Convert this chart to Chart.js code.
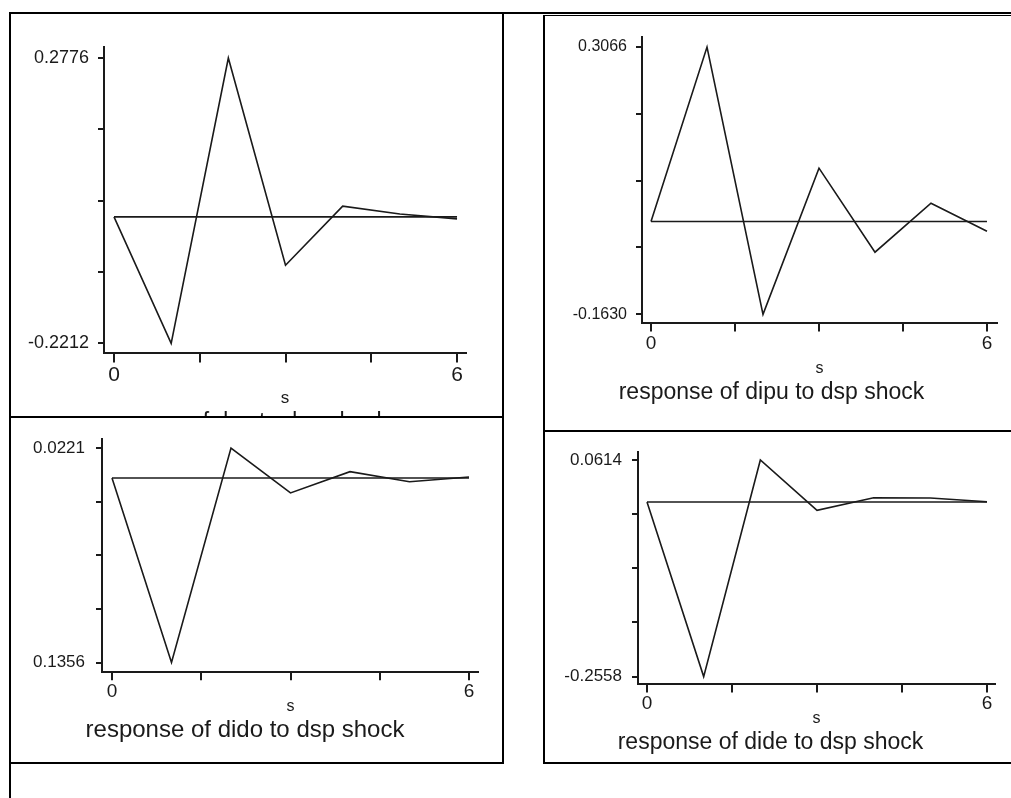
<!DOCTYPE html>
<html>
<head>
<meta charset="utf-8">
<script src="https://cdn.jsdelivr.net/npm/chart.js@4.4.1/dist/chart.umd.min.js"></script>
<style>
  body { margin: 0; background: #fff; width: 1011px; height: 798px; overflow: hidden; position: relative; }
  canvas, .line, .cover { position: absolute; }
  .line { background: #000; }
  .cover { background: #fff; }
</style>
</head>
<body>
<canvas id="tl" width="470" height="421" style="left:11px;top:15px"></canvas>
<div class="cover" style="left:11px;top:418px;width:491px;height:344px"></div>
<canvas id="bl" width="468" height="327" style="left:11px;top:418px"></canvas>
<canvas id="tr" width="456" height="389" style="left:546px;top:17px"></canvas>
<canvas id="br" width="454" height="324" style="left:546px;top:432px"></canvas>

<div class="line" style="left:9px;top:12px;width:1002px;height:2px"></div>
<div class="line" style="left:9px;top:12px;width:2px;height:786px"></div>
<div class="line" style="left:502px;top:12px;width:2px;height:752px"></div>
<div class="line" style="left:9px;top:416px;width:495px;height:2px"></div>
<div class="line" style="left:9px;top:762px;width:495px;height:2px"></div>
<div class="line" style="left:543px;top:15px;width:2px;height:749px"></div>
<div class="line" style="left:543px;top:15px;width:468px;height:1px"></div>
<div class="line" style="left:543px;top:430px;width:468px;height:2px"></div>
<div class="line" style="left:543px;top:762px;width:468px;height:2px"></div>

<script>
// impulse responses, horizon 0..6
const steps = [0, 1, 2, 3, 4, 5, 6];
const baseline = [0, 0, 0, 0, 0, 0, 0];
const dspResp  = [0, -0.2212, 0.2776, -0.0847, 0.0186, 0.0050, -0.0035];
const dipuResp = [0, 0.3066, -0.1630, 0.0938, -0.0539, 0.0322, -0.0170];
const didoResp = [0, -0.1356, 0.0221, -0.0109, 0.0047, -0.0027, 0.0008];
const dideResp = [0, -0.2558, 0.0614, -0.0122, 0.0060, 0.0057, 0.0002];

// tick labels (bottom, top) as printed
const dspTicks  = ['-0.2212', '0.2776'];
const dipuTicks = ['-0.1630', '0.3066'];
const didoTicks = ['0.1356', '0.0221'];
const dideTicks = ['-0.2558', '0.0614'];

const xTickValues = [0, 1.5, 3, 4.5, 6];
const xTickText = ['0', '', '', '', '6'];

const regular = "'Liberation Sans', Arial, sans-serif";
const ink = '#1a1a1a';

function makePanel(id, values, yText, title, g) {
    const lo = Math.min(...values);
    const hi = Math.max(...values);
    const span = hi - lo;
    new Chart(document.getElementById(id), {
        type: 'line',
        data: {
            datasets: [
                {
                    data: steps.map((s, i) => ({ x: s, y: values[i] })),
                    borderColor: ink, borderWidth: 1.6, pointRadius: 0, tension: 0
                },
                {
                    data: steps.map((s, i) => ({ x: s, y: baseline[i] })),
                    borderColor: ink, borderWidth: 1.6, pointRadius: 0
                }
            ]
        },
        options: {
            responsive: false,
            animation: false,
            devicePixelRatio: 1,
            layout: { padding: { left: 0, top: g.top, right: g.right, bottom: 0 } },
            plugins: {
                legend: { display: false },
                tooltip: { enabled: false },
                title: {
                    display: true,
                    position: 'bottom',
                    text: title,
                    color: ink,
                    font: { family: regular, size: g.titleSize, weight: 'normal' },
                    padding: { top: 0, bottom: 0 }
                }
            },
            scales: {
                x: {
                    type: 'linear',
                    min: g.xMin,
                    max: g.xMax,
                    afterBuildTicks: s => { s.ticks = xTickValues.map(v => ({ value: v })); },
                    afterFit: s => { s.height = g.xAxisH; },
                    ticks: {
                        autoSkip: false, maxRotation: 0, padding: g.xPad, color: ink,
                        font: { family: regular, size: g.xFont },
                        callback: (v, i) => xTickText[i]
                    },
                    grid: { drawOnChartArea: false, tickLength: g.xTickLen, color: ink, lineWidth: 2 },
                    border: { color: ink, width: 2 },
                    title: {
                        display: true, text: 's', color: ink, padding: 0,
                        font: { family: regular, size: g.sFont }
                    }
                },
                y: {
                    min: lo - span * g.padBottom,
                    max: hi + span * g.padTop,
                    afterBuildTicks: s => {
                        s.ticks = [0, 1, 2, 3, 4].map(k => ({ value: lo + span * k / 4 }));
                    },
                    afterFit: s => { s.width = g.left; },
                    ticks: {
                        padding: g.yPad, color: ink,
                        font: { family: regular, size: g.yFont },
                        callback: (v, i) => i === 0 ? yText[0] : (i === 4 ? yText[1] : '')
                    },
                    grid: { drawOnChartArea: false, tickLength: 6, color: ink, lineWidth: 2 },
                    border: { color: ink, width: 2 }
                }
            }
        }
    });
}

makePanel('tl', dspResp, dspTicks, 'response of dsp to dsp shock', {
    left: 93, top: 32, right: 15, xAxisH: 55, xMin: -0.175, xMax: 6.157,
    padTop: 0.0386, padBottom: 0.035, yPad: 9, yFont: 18,
    xFont: 21, xPad: 0, xTickLen: 9, sFont: 17, titleSize: 23
});
makePanel('tr', dipuResp, dipuTicks, 'response of dipu to dsp shock', {
    left: 96, top: 20, right: 5, xAxisH: 55, xMin: -0.161, xMax: 6.179,
    padTop: 0.0375, padBottom: 0.034, yPad: 9, yFont: 16,
    xFont: 19, xPad: 1, xTickLen: 8, sFont: 16, titleSize: 23
});
makePanel('bl', didoResp, didoTicks, 'response of dido to dsp shock', {
    left: 91, top: 15, right: 0, xAxisH: 44, xMin: -0.168, xMax: 6.168,
    padTop: 0.041, padBottom: 0.045, yPad: 11, yFont: 17,
    xFont: 19, xPad: 0, xTickLen: 8, sFont: 16, titleSize: 24
});
makePanel('br', dideResp, dideTicks, 'response of dide to dsp shock', {
    left: 92, top: 12, right: 5, xAxisH: 44, xMin: -0.159, xMax: 6.141,
    padTop: 0.036, padBottom: 0.036, yPad: 10, yFont: 17,
    xFont: 19, xPad: 0, xTickLen: 8, sFont: 16, titleSize: 23
});
</script>
</body>
</html>
